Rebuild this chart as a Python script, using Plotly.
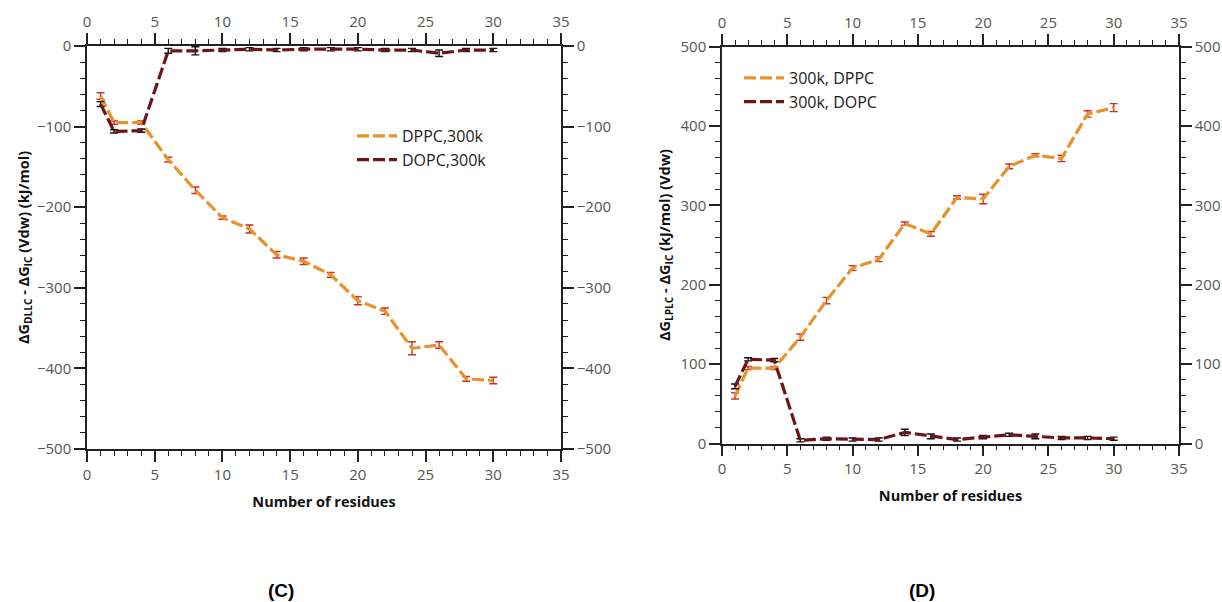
import plotly.graph_objects as go

# Number of residues sampled
residues = [1, 2, 4, 6, 8, 10, 12, 14, 16, 18, 20, 22, 24, 26, 28, 30]

# Panel C: ΔG_DLLC - ΔG_IC (Vdw), kJ/mol
c_dppc = [-62, -95, -95, -141, -179, -213, -227, -259, -267, -284, -316, -329, -375, -371, -413, -415]
c_dppc_err = [4, 2, 2, 3, 4, 2, 5, 4, 4, 3, 5, 4, 8, 4, 3, 4]
c_dopc = [-72, -106, -105, -6, -6, -5, -4, -5, -4, -4, -4, -5, -5, -9, -5, -5]
c_dopc_err = [3, 2, 2, 3, 5, 2, 2, 2, 2, 2, 2, 2, 2, 4, 2, 2]

# Panel D: ΔG_LPLC - ΔG_IC (Vdw), kJ/mol
d_dppc = [60, 95, 95, 134, 180, 221, 232, 277, 264, 310, 308, 349, 363, 359, 415, 423]
d_dppc_err = [4, 2, 2, 4, 4, 3, 3, 2, 3, 2, 6, 3, 2, 4, 4, 5]
d_dopc = [72, 106, 105, 4, 6, 5, 5, 14, 9, 5, 8, 11, 9, 7, 7, 6]
d_dopc_err = [3, 2, 2, 2, 2, 2, 2, 4, 3, 2, 2, 2, 3, 2, 2, 2]

ORANGE = "#E8922E"
DARKRED = "#6E1414"
ERR_RED = "#D0301E"
ERR_BLACK = "#111111"
DASH = "12px,4px"
FONT = "Open Sans"

fig = go.Figure()


def add_series(name, y, err, color, ecolor, xa, ya, legend):
    fig.add_trace(go.Scatter(
        x=residues, y=y, name=name, mode="lines",
        line=dict(color=color, width=3.2, dash=DASH),
        error_y=dict(type="data", array=err, visible=True, color=ecolor,
                     thickness=1.4, width=4),
        xaxis=xa, yaxis=ya, legend=legend,
    ))


add_series("DPPC,300k", c_dppc, c_dppc_err, ORANGE, ERR_RED, "x", "y", "legend")
add_series("DOPC,300k", c_dopc, c_dopc_err, DARKRED, ERR_BLACK, "x", "y", "legend")
add_series("300k, DPPC", d_dppc, d_dppc_err, ORANGE, ERR_RED, "x2", "y2", "legend2")
add_series("300k, DOPC", d_dopc, d_dopc_err, DARKRED, ERR_BLACK, "x2", "y2", "legend2")

# empty traces so the mirrored top/right axes get drawn
for xa, ya in [("x3", "y"), ("x", "y3"), ("x4", "y2"), ("x2", "y4")]:
    fig.add_trace(go.Scatter(x=[], y=[], xaxis=xa, yaxis=ya, showlegend=False,
                             hoverinfo="skip"))

tickfont = dict(family=FONT, size=15, color="#555555")
titlefont = dict(family=FONT, size=14.5, color="#111111")
common = dict(
    showline=True, linecolor="#222222", linewidth=1.5,
    ticks="outside", ticklen=11, tickwidth=1.5, tickcolor="#222222",
    showgrid=False, zeroline=False, tickfont=tickfont, automargin=False,
)
xcommon = dict(common, range=[0, 35], dtick=5, tick0=0,
               minor=dict(dtick=1, ticks="outside", ticklen=5, tickwidth=1.3,
                          tickcolor="#222222", showgrid=False))


def ycommon(rng):
    return dict(common, range=rng, dtick=100,
                minor=dict(dtick=20, ticks="outside", ticklen=5, tickwidth=1.3,
                           tickcolor="#222222", showgrid=False))


dom_c_x = [87 / 1222, 561 / 1222]
dom_c_y = [1 - 449 / 602, 1 - 46 / 602]
dom_d_x = [722 / 1222, 1179 / 1222]
dom_d_y = [1 - 443.5 / 602, 1 - 46.5 / 602]

legend_font = dict(family=FONT, size=16, color="#222222")

fig.update_layout(
    width=1222, height=602,
    margin=dict(l=0, r=0, t=0, b=0, autoexpand=False),
    paper_bgcolor="white", plot_bgcolor="white",
    showlegend=True,
    xaxis=dict(xcommon, domain=dom_c_x, anchor="y",
               title=dict(text="<b>Number of residues</b>", font=titlefont, standoff=14)),
    yaxis=dict(ycommon([-500, 0]), domain=dom_c_y, anchor="x",
               title=dict(text="<b>ΔG<sub>DLLC</sub> - ΔG<sub>IC</sub> (Vdw) (kJ/mol)</b>",
                          font=titlefont, standoff=4)),
    xaxis3=dict(xcommon, overlaying="x", side="top", anchor="y"),
    yaxis3=dict(ycommon([-500, 0]), overlaying="y", side="right", anchor="x"),
    xaxis2=dict(xcommon, domain=dom_d_x, anchor="y2",
                title=dict(text="<b>Number of residues</b>", font=titlefont, standoff=14)),
    yaxis2=dict(ycommon([0, 500]), domain=dom_d_y, anchor="x2",
                title=dict(text="<b>ΔG<sub>LPLC</sub> - ΔG<sub>IC</sub> (kJ/mol) (Vdw)</b>",
                           font=titlefont, standoff=6)),
    xaxis4=dict(xcommon, overlaying="x2", side="top", anchor="y2"),
    yaxis4=dict(ycommon([0, 500]), overlaying="y2", side="right", anchor="x2"),
    legend=dict(x=352 / 1222, y=1 - 119 / 602, xanchor="left", yanchor="top",
                bgcolor="rgba(0,0,0,0)", font=legend_font,
                itemwidth=40, tracegroupgap=0),
    legend2=dict(x=739 / 1222, y=1 - 61 / 602, xanchor="left", yanchor="top",
                 bgcolor="rgba(0,0,0,0)", font=legend_font,
                 itemwidth=40, tracegroupgap=0),
    annotations=[
        dict(text="<b>(C)</b>", x=281 / 1222, y=1 - 590 / 602, xref="paper", yref="paper",
             xanchor="center", yanchor="middle", showarrow=False,
             font=dict(family="Liberation Sans", size=19, color="black")),
        dict(text="<b>(D)</b>", x=922 / 1222, y=1 - 590 / 602, xref="paper", yref="paper",
             xanchor="center", yanchor="middle", showarrow=False,
             font=dict(family="Liberation Sans", size=19, color="black")),
    ],
)

fig.write_html("out.html")
